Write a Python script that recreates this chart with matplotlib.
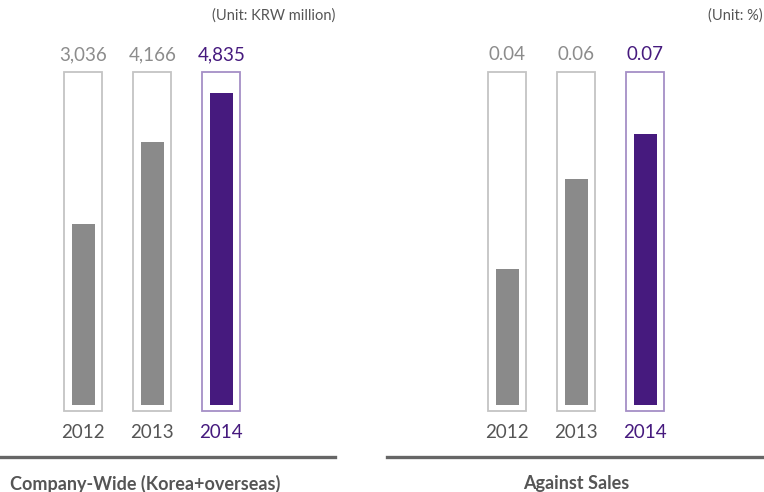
import matplotlib
matplotlib.use("Agg")
import matplotlib.pyplot as plt
import matplotlib.transforms as mtransforms
from matplotlib.lines import Line2D

plt.rcParams['font.family'] = ['Lato', 'DejaVu Sans']

years = ["2012", "2013", "2014"]
company_values = [3036, 4166, 4835]
company_labels = ["3,036", "4,166", "4,835"]
sales_values = [0.04, 0.06, 0.07]
sales_labels = ["0.04", "0.06", "0.07"]
titles = ["Company-Wide (Korea+overseas)", "Against Sales"]
units = ["(Unit: KRW million)", "(Unit: %)"]

W, H = 764, 492
fig = plt.figure(figsize=(W / 100, H / 100), dpi=100)

GRAY_BAR = "#8a8a8a"
PURPLE = "#461a7e"
GRAY_BOX = "#c4c4c4"
PURPLE_BOX = "#a58fc6"
GRAY_VAL = "#8c8c8c"
GRAY_YEAR = "#555555"
DARK = "#555555"

def fy(py):
    return 1 - py / H

panels = [
    dict(values=company_values, labels=company_labels, x0=0, x1=335, c0=83.3,
         base=565.0, ylim=(483.0, 5120.0), title=titles[0], unit=units[0],
         line=(0, 335), title_x=10, title_ha="left", unit_x=335),
    dict(values=sales_values, labels=sales_labels, x0=388, x1=764, c0=507.3,
         base=0.01005, ylim=(0.00873, 0.08359), title=titles[1], unit=units[1],
         line=(387, 764), title_x=576, title_ha="center", unit_x=763),
]
step = 69.0
ax_bottom, ax_top = 411, 72

for p in panels:
    ax = fig.add_axes([p["x0"] / W, fy(ax_bottom), (p["x1"] - p["x0"]) / W,
                       (ax_bottom - ax_top) / H])
    ax.set_xlim((p["x0"] - p["c0"]) / step, (p["x1"] - p["c0"]) / step)
    ax.set_ylim(*p["ylim"])
    ax.axis("off")
    y0, y1 = p["ylim"]
    for i, v in enumerate(p["values"]):
        last = i == len(years) - 1
        ax.bar(i, y1 - y0, bottom=y0, width=0.551, facecolor="none",
               edgecolor=PURPLE_BOX if last else GRAY_BOX, linewidth=1.3,
               clip_on=False)
        ax.bar(i, v - p["base"], bottom=p["base"], width=0.333,
               color=PURPLE if last else GRAY_BAR, linewidth=0)
    tr = mtransforms.blended_transform_factory(ax.transData, fig.transFigure)
    for i, lab in enumerate(p["labels"]):
        last = i == len(years) - 1
        ax.text(i, fy(55), lab, transform=tr, ha="center", va="center",
                fontsize=13.5, color=PURPLE if last else GRAY_VAL)
        ax.text(i, fy(432), years[i], transform=tr, ha="center", va="center",
                fontsize=13.5, color=PURPLE if last else GRAY_YEAR)
    fig.add_artist(Line2D([p["line"][0] / W, p["line"][1] / W], [fy(457), fy(457)],
                          color="#666666", linewidth=2.4))
    fig.text(p["title_x"] / W, fy(484), p["title"], ha=p["title_ha"], va="center",
             fontsize=13, fontweight="bold", color=DARK)
    fig.text(p["unit_x"] / W, fy(16), p["unit"], ha="right", va="center",
             fontsize=10.5, color=DARK)

fig.savefig("out.png", dpi=100)
